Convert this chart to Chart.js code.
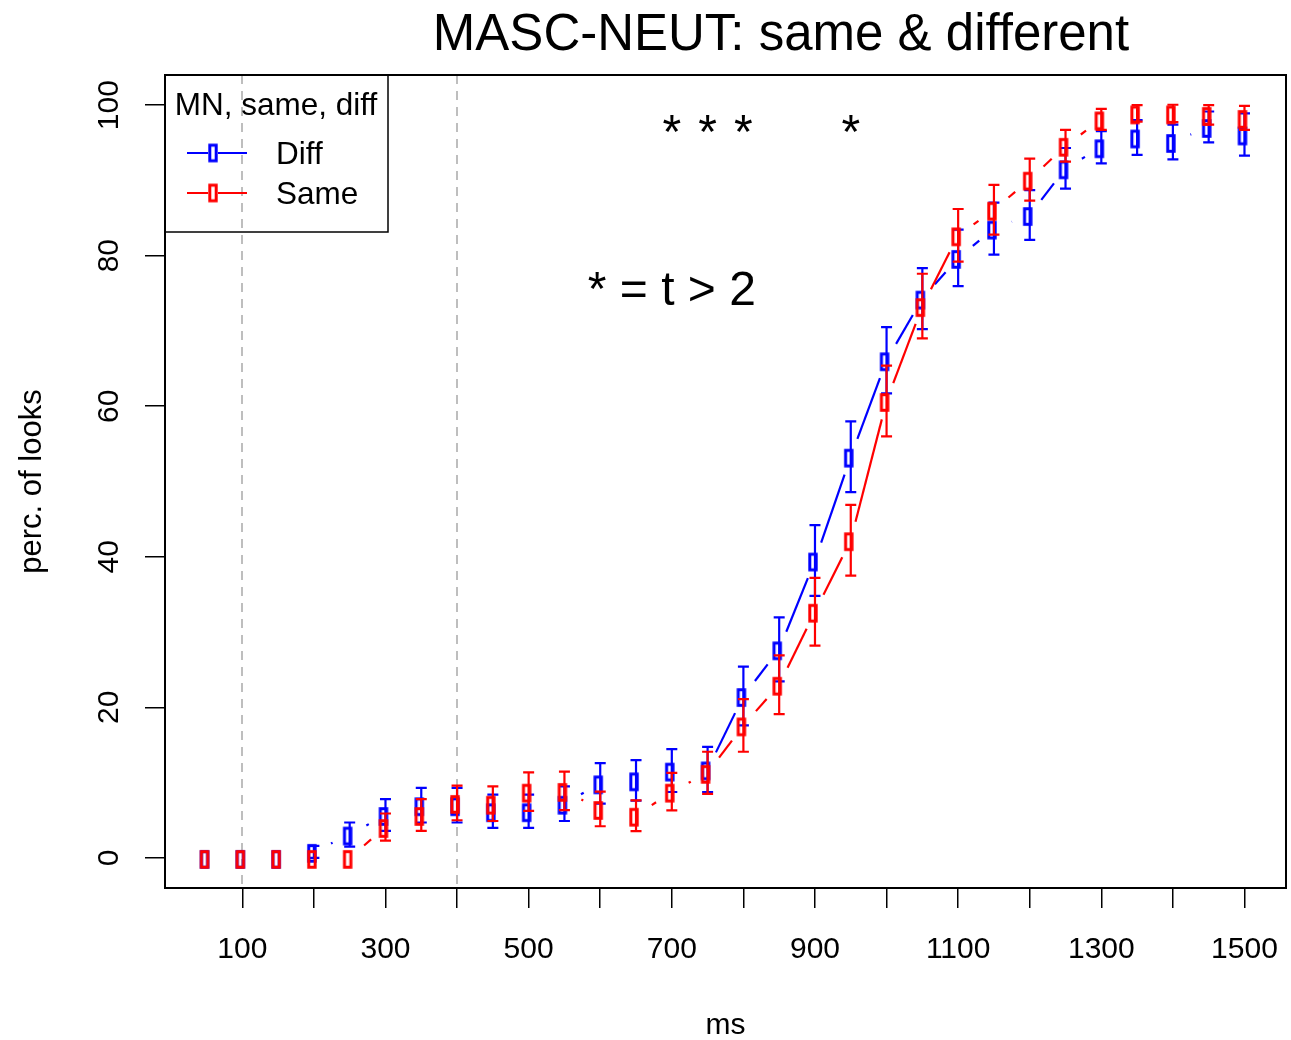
<!DOCTYPE html>
<html>
<head>
<meta charset="utf-8">
<title>MASC-NEUT: same &amp; different</title>
<script src="https://cdn.jsdelivr.net/npm/chart.js@4.4.1/dist/chart.umd.min.js"></script>
<style>
  html, body { margin: 0; padding: 0; background: #fff; }
  #wrap { width: 1291px; height: 1040px; }
</style>
</head>
<body>
<div id="wrap"><canvas id="lookChart" width="1291" height="1040"></canvas></div>
<script>
// time bins (ms)
const msBins = [50, 100, 150, 200, 250, 300, 350, 400, 450, 500,
                550, 600, 650, 700, 750, 800, 850, 900, 950, 1000,
                1050, 1100, 1150, 1200, 1250, 1300, 1350, 1400, 1450, 1500];

// Diff condition: mean % looks and error bar half-width
const diffMean = [0, 0, 0, 0.8, 3.1, 5.7, 7.0, 7.0, 6.2, 6.2,
                  7.2, 9.9, 10.3, 11.6, 11.75, 21.5, 27.7, 39.5, 53.3, 66.1,
                  74.3, 79.7, 83.6, 85.4, 91.6, 94.4, 95.7, 95.1, 97.1, 96.1];
const diffErr = [0, 0, 0, 0.8, 1.6, 2.1, 2.3, 2.3, 2.2, 2.2,
                 2.3, 2.7, 2.7, 2.85, 3.0, 3.9, 4.25, 4.7, 4.7, 4.4,
                 4.05, 3.75, 3.45, 3.3, 2.7, 2.15, 2.3, 2.3, 2.05, 2.8];

// Same condition
const sameMean = [0, 0, 0, 0, 0, 4.1, 5.7, 7.3, 7.2, 8.8,
                  8.9, 6.5, 5.6, 8.8, 11.3, 17.6, 23.0, 32.7, 42.2, 60.7,
                  73.3, 82.7, 86.1, 90.1, 94.6, 98.1, 98.9, 98.9, 98.7, 98.3];
const sameErr = [0, 0, 0, 0, 0, 1.8, 2.1, 2.3, 2.3, 2.55,
                 2.55, 2.3, 2.05, 2.5, 2.8, 3.5, 3.9, 4.5, 4.7, 4.7,
                 4.3, 3.5, 3.3, 2.8, 2.1, 1.4, 1.1, 1.15, 1.3, 1.6];

const xTicks = [100, 200, 300, 400, 500, 600, 700, 800, 900, 1000, 1100, 1200, 1300, 1400, 1500];
const xLabelled = [100, 300, 500, 700, 900, 1100, 1300, 1500];
const yTicks = [0, 20, 40, 60, 80, 100];

const markerLines = [100, 400];          // dashed verticals
const starBins = [700, 750, 800, 950];   // significant bins
const starLevel = 94.3;
const noteText = '* = t > 2';
const noteAt = [700, 73.4];

const FONT = "'Liberation Sans', Arial, Helvetica, sans-serif";
const BLUE = '#0000ff';
const RED = '#ff0000';
const GAP = 19; // type="b" gap around points, px

function makeMarker(color) {
    const c = document.createElement('canvas');
    c.width = 20;
    c.height = 24;
    const g = c.getContext('2d');
    g.strokeStyle = color;
    g.lineWidth = 3;
    // glyph sits a little left and low of the true point, like the R output
    g.strokeRect(8 - 3.2, 13.5 - 7.8, 6.4, 15.6);
    return c;
}

const series = [
    { label: 'Diff', color: BLUE, mean: diffMean, err: diffErr },
    { label: 'Same', color: RED, mean: sameMean, err: sameErr }
];

const datasets = series.map((s, i) => ({
    label: s.label,
    data: msBins.map((x, j) => ({ x: x, y: s.mean[j] })),
    pointStyle: makeMarker(s.color),
    showLine: false,
    order: series.length - i,
    errs: s.err,
    lineColor: s.color
}));

const rPlot = {
    id: 'rPlot',
    beforeDatasetsDraw(chart) {
        const { ctx, chartArea: a, scales: { x } } = chart;
        ctx.save();
        ctx.strokeStyle = '#bebebe';
        ctx.lineWidth = 2;
        ctx.setLineDash([9, 7]);
        markerLines.forEach(v => {
            const px = Math.round(x.getPixelForValue(v));
            ctx.beginPath();
            ctx.moveTo(px, a.top);
            ctx.lineTo(px, a.bottom);
            ctx.stroke();
        });
        ctx.restore();
    },
    beforeDatasetDraw(chart, args) {
        const ds = chart.data.datasets[args.index];
        const pts = chart.getDatasetMeta(args.index).data;
        const ctx = chart.ctx;
        ctx.save();
        ctx.strokeStyle = ds.lineColor;
        ctx.lineWidth = 2.2;
        for (let i = 0; i < pts.length - 1; i++) {
            const p0 = pts[i], p1 = pts[i + 1];
            const dx = p1.x - p0.x, dy = p1.y - p0.y;
            const d = Math.hypot(dx, dy);
            if (d <= 2 * GAP) continue;
            const ux = dx / d, uy = dy / d;
            ctx.beginPath();
            ctx.moveTo(p0.x + ux * GAP, p0.y + uy * GAP);
            ctx.lineTo(p1.x - ux * GAP, p1.y - uy * GAP);
            ctx.stroke();
        }
        ctx.restore();
    },
    afterDatasetDraw(chart, args) {
        const ds = chart.data.datasets[args.index];
        const { ctx, scales: { x, y } } = chart;
        ctx.save();
        ctx.strokeStyle = ds.lineColor;
        ctx.lineWidth = 2.2;
        ds.data.forEach((p, i) => {
            const e = ds.errs[i];
            if (!e) return;
            const px = x.getPixelForValue(p.x);
            const top = y.getPixelForValue(p.y + e);
            const bot = y.getPixelForValue(p.y - e);
            ctx.beginPath();
            ctx.moveTo(px, top);
            ctx.lineTo(px, bot);
            ctx.moveTo(px - 5.5, top);
            ctx.lineTo(px + 5.5, top);
            ctx.moveTo(px - 5.5, bot);
            ctx.lineTo(px + 5.5, bot);
            ctx.stroke();
        });
        ctx.restore();
    },
    afterDraw(chart) {
        const { ctx, chartArea: a, scales: { x, y } } = chart;
        ctx.save();

        // plot box
        ctx.strokeStyle = '#000';
        ctx.lineWidth = 2;
        ctx.strokeRect(a.left, a.top, a.right - a.left, a.bottom - a.top);

        ctx.fillStyle = '#000';

        // title
        ctx.font = '51px ' + FONT;
        ctx.textAlign = 'center';
        ctx.textBaseline = 'alphabetic';
        ctx.fillText('MASC-NEUT: same & different', 781, 50);

        // axis titles
        ctx.font = '30px ' + FONT;
        ctx.fillText('ms', (a.left + a.right) / 2, 1034);
        ctx.save();
        ctx.translate(41, (a.top + a.bottom) / 2);
        ctx.rotate(-Math.PI / 2);
        ctx.font = '31px ' + FONT;
        ctx.fillText('perc. of looks', 0, 0);
        ctx.restore();

        // y tick labels, rotated as in R
        y.ticks.forEach(t => {
            ctx.save();
            ctx.translate(118, y.getPixelForValue(t.value));
            ctx.rotate(-Math.PI / 2);
            ctx.fillText(String(t.value), 0, 0);
            ctx.restore();
        });

        // significance stars and note
        ctx.font = '48px ' + FONT;
        starBins.forEach(v => {
            ctx.fillText('*', x.getPixelForValue(v), y.getPixelForValue(starLevel));
        });
        ctx.fillText(noteText, x.getPixelForValue(noteAt[0]), y.getPixelForValue(noteAt[1]));

        // legend
        const lx = a.left, ly = a.top, lw = 223, lh = 157;
        ctx.lineWidth = 1.5;
        ctx.strokeRect(lx, ly, lw, lh);
        ctx.font = '31.5px ' + FONT;
        ctx.textAlign = 'center';
        ctx.fillText('MN, same, diff', lx + 111, ly + 40);
        ctx.textAlign = 'left';
        series.forEach((s, i) => {
            const cy = ly + 78 + i * 40;
            ctx.strokeStyle = s.color;
            ctx.lineWidth = 2;
            ctx.beginPath();
            ctx.moveTo(lx + 22, cy);
            ctx.lineTo(lx + 43, cy);
            ctx.moveTo(lx + 53, cy);
            ctx.lineTo(lx + 82, cy);
            ctx.stroke();
            ctx.drawImage(datasets[i].pointStyle, lx + 48 - 10 + 2, cy - 12 - 1.5);
            ctx.fillStyle = '#000';
            ctx.fillText(s.label, lx + 111, cy + 11);
        });

        ctx.restore();
    }
};

new Chart(document.getElementById('lookChart'), {
    type: 'scatter',
    data: { datasets: datasets },
    options: {
        responsive: false,
        animation: false,
        events: [],
        layout: { padding: { left: 0, top: 75, right: 3, bottom: 0 } },
        plugins: {
            legend: { display: false },
            tooltip: { enabled: false },
            title: { display: false }
        },
        scales: {
            x: {
                type: 'linear',
                min: -8,
                max: 1558,
                afterBuildTicks: scale => { scale.ticks = xTicks.map(v => ({ value: v })); },
                afterFit: scale => {
                    scale.height = 152;
                    scale.paddingLeft = 0;
                    scale.paddingRight = 0;
                },
                border: { display: false },
                grid: { drawOnChartArea: false, drawTicks: true, tickLength: 20, color: '#000', lineWidth: 1.5 },
                ticks: {
                    autoSkip: false,
                    maxRotation: 0,
                    padding: 24,
                    color: '#000',
                    font: { family: FONT, size: 30 },
                    callback: v => xLabelled.includes(v) ? String(v) : ''
                }
            },
            y: {
                type: 'linear',
                min: -4,
                max: 104,
                afterBuildTicks: scale => { scale.ticks = yTicks.map(v => ({ value: v })); },
                afterFit: scale => {
                    scale.width = 165;
                    scale.paddingTop = 0;
                    scale.paddingBottom = 0;
                },
                border: { display: false },
                grid: { drawOnChartArea: false, drawTicks: true, tickLength: 20, color: '#000', lineWidth: 1.5 },
                ticks: { display: false }
            }
        }
    },
    plugins: [rPlot]
});
</script>
</body>
</html>
